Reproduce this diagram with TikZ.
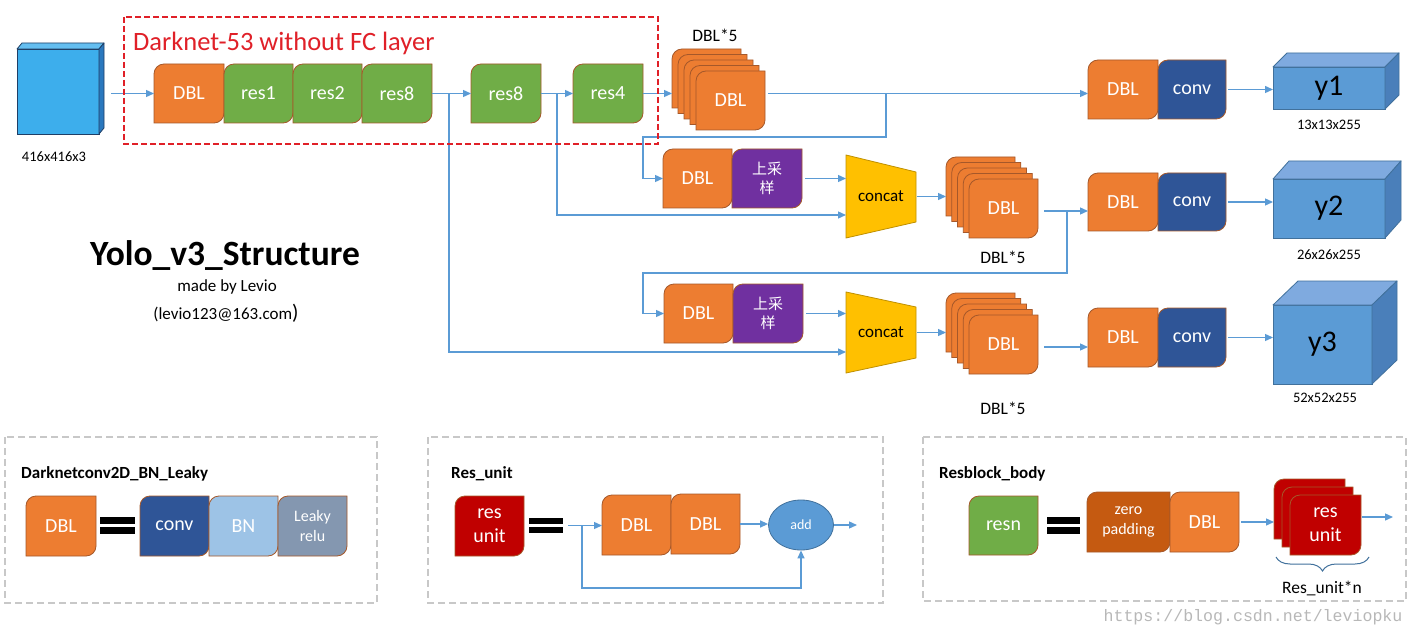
\documentclass[tikz,border=0pt]{standalone}
\usepackage{fontspec}
\setmainfont{Carlito}
\newfontfamily\cjkf{Noto Sans CJK SC}
\newfontfamily\wmf{Liberation Mono}
\usetikzlibrary{arrows.meta,backgrounds,decorations.pathreplacing,shapes.geometric}

\definecolor{dblc}{HTML}{ED7D31}
\definecolor{resc}{HTML}{70AD47}
\definecolor{convc}{HTML}{2F5597}
\definecolor{upc}{HTML}{7030A0}
\definecolor{ruc}{HTML}{C00000}
\definecolor{zpc}{HTML}{C55A11}
\definecolor{bnc}{HTML}{9DC3E6}
\definecolor{lkc}{HTML}{8497B0}
\definecolor{edgec}{HTML}{A5582A}
\definecolor{arrc}{HTML}{5B9BD5}
\definecolor{cubef}{HTML}{5B9BD5}
\definecolor{cubet}{HTML}{7FAADF}
\definecolor{cubes}{HTML}{4A7FBA}
\definecolor{cubee}{HTML}{41719C}
\definecolor{inpf}{HTML}{3DAEEC}
\definecolor{inps}{HTML}{2A78BE}
\definecolor{inpe}{HTML}{1F3F66}
\definecolor{catc}{HTML}{FFC000}
\definecolor{cate}{HTML}{BF9000}
\definecolor{redc}{HTML}{E02028}
\definecolor{panelc}{HTML}{C8C8C8}
\definecolor{wmc}{HTML}{B8B8B8}

\makeatletter
\pgfdeclareshape{snipbox}{%
  \inheritsavedanchors[from=rectangle]%
  \inheritanchorborder[from=rectangle]%
  \inheritanchor[from=rectangle]{center}%
  \inheritanchor[from=rectangle]{north}%
  \inheritanchor[from=rectangle]{south}%
  \inheritanchor[from=rectangle]{east}%
  \inheritanchor[from=rectangle]{west}%
  \inheritanchor[from=rectangle]{north east}%
  \inheritanchor[from=rectangle]{north west}%
  \inheritanchor[from=rectangle]{south east}%
  \inheritanchor[from=rectangle]{south west}%
  \inheritanchor[from=rectangle]{text}%
  \inheritanchor[from=rectangle]{mid}%
  \inheritanchor[from=rectangle]{base}%
  \backgroundpath{%
    \southwest \edef\snpxa{\the\pgf@x}\edef\snpya{\the\pgf@y}%
    \northeast \edef\snpxb{\the\pgf@x}\edef\snpyb{\the\pgf@y}%
    \edef\snpr{\pgfkeysvalueof{/tikz/snip radius}}%
    \pgfpathmoveto{\pgfpoint{\snpxa}{\snpya}}%
    \pgfpathlineto{\pgfpoint{\snpxa}{\snpyb-\snpr}}%
    \pgfpathcurveto{\pgfpoint{\snpxa}{\snpyb-0.4477*\snpr}}{\pgfpoint{\snpxa+0.4477*\snpr}{\snpyb}}{\pgfpoint{\snpxa+\snpr}{\snpyb}}%
    \pgfpathlineto{\pgfpoint{\snpxb}{\snpyb}}%
    \pgfpathlineto{\pgfpoint{\snpxb}{\snpya+\snpr}}%
    \pgfpathcurveto{\pgfpoint{\snpxb}{\snpya+0.4477*\snpr}}{\pgfpoint{\snpxb-0.4477*\snpr}{\snpya}}{\pgfpoint{\snpxb-\snpr}{\snpya}}%
    \pgfpathclose
  }%
}
\makeatother

\tikzset{
  snip radius/.initial=10pt,
  blk/.style={shape=snipbox, draw=edgec, line width=0.8pt, inner sep=0pt, outer sep=0pt, anchor=north west, text=white, align=center, font=\fontsize{20}{24}\selectfont},
  sz/.style 2 args={minimum width=#1pt, minimum height=#2pt},
  dblbox/.style={blk, fill=dblc},
  resbox/.style={blk, fill=resc},
  convbox/.style={blk, fill=convc},
  upbox/.style={blk, fill=upc, font=\cjkf\fontsize{15}{19}\selectfont},
  rubox/.style={blk, fill=ruc},
  zpbox/.style={blk, fill=zpc, font=\fontsize{16}{20}\selectfont},
  bnbox/.style={blk, fill=bnc},
  lkbox/.style={blk, fill=lkc, font=\fontsize{16}{20}\selectfont},
  cubefront/.style={draw=cubee, fill=cubef, line width=0.8pt, inner sep=0pt, outer sep=0pt, anchor=north west, font=\fontsize{30}{32}\selectfont, text=black},
  cubetop/.style={draw=cubee, fill=cubet, line width=0.8pt, line join=round},
  cubeside/.style={draw=cubee, fill=cubes, line width=0.8pt, line join=round},
  catbox/.style={minimum width=70pt, inner sep=0pt, outer sep=0pt, font=\fontsize{17}{20}\selectfont},
  catfill/.style={fill=catc, draw=cate, line width=0.8pt, line join=round},
  arr/.style={draw=arrc, line width=1.3pt, -{Triangle[length=8pt,width=7pt]}},
  ln/.style={draw=arrc, line width=1.3pt},
  lbl/.style={inner sep=0pt, text=black, font=\fontsize{14.5}{16}\selectfont},
  lblb/.style={inner sep=0pt, text=black, font=\fontsize{17.5}{20}\selectfont},
  ptitle/.style={inner sep=0pt, anchor=west, text=black, font=\bfseries\fontsize{17}{20}\selectfont},
  panel/.style={draw=panelc, line width=1.8pt, dash pattern=on 7pt off 4pt},
  eqbar/.style={fill=black},
}

\begin{document}
\begin{tikzpicture}[x=1pt,y=-1pt]
\useasboundingbox (0,0) rectangle (1415,636);
\begin{pgfonlayer}{background}
\fill[white] (0,0) rectangle (1415,636);
\end{pgfonlayer}

% ---------- input cube ----------
\node[cubefront, draw=inpe, fill=inpf, sz={82}{85}] (inp) at (17,49) {};
\filldraw[cubetop, draw=inpe, fill=inpf!80!white] (inp.north west) -- ++(5,-6) -- ([shift={(5,-6)}]inp.north east) -- (inp.north east) -- cycle;
\filldraw[cubeside, draw=inpe, fill=inps] (inp.north east) -- ([shift={(5,-6)}]inp.north east) -- ([shift={(5,-6)}]inp.south east) -- (inp.south east) -- cycle;
\node[lbl] (inpl) at (54,157) {416x416x3};

% ---------- backbone ----------
\node[redc, anchor=west, inner sep=0pt, font=\fontsize{26.5}{30}\selectfont] (dk) at (133,43) {Darknet-53 without FC layer};
\node[dblbox, sz={70}{59}] (dbl0) at (154,64) {DBL};
\node[resbox, sz={69}{59}] (r1) at (224,64) {res1};
\node[resbox, sz={69}{59}] (r2) at (293,64) {res2};
\node[resbox, sz={70}{59}] (r8a) at (362,64) {res8};
\node[resbox, sz={70}{59}] (r8b) at (471,64) {res8};
\node[resbox, sz={70}{59}] (r4) at (573,64) {res4};

% stack 1
\node[dblbox, sz={69}{59}] (s1a) at (672,49) {};
\node[dblbox, sz={69}{59}] (s1b) at (678,54.5) {};
\node[dblbox, sz={69}{59}] (s1c) at (684,60) {};
\node[dblbox, sz={69}{59}] (s1d) at (690,65.5) {};
\node[dblbox, sz={69}{59}] (s1e) at (696,71) {DBL};
\node[lblb] (s1l) at (715,35) {DBL*5};

% y1 branch
\node[dblbox, sz={70}{59}] (d1) at (1088,60) {DBL};
\node[convbox, sz={68}{59}] (cv1) at (1158,60) {conv};
\node[cubefront, sz={112}{42}] (y1) at (1273,67) {y1};
\filldraw[cubetop] (y1.north west) -- ++(14,-14) -- ([shift={(14,-14)}]y1.north east) -- (y1.north east) -- cycle;
\filldraw[cubeside] (y1.north east) -- ([shift={(14,-14)}]y1.north east) -- ([shift={(14,-14)}]y1.south east) -- (y1.south east) -- cycle;
\node[lbl] (y1l) at (1329,125) {13x13x255};

% row 2
\node[dblbox, sz={69}{59}] (u1d) at (663,149) {DBL};
\node[upbox, sz={70}{59}] (u1u) at (732,149) {上采\\样};
\node[catbox, minimum height=83pt] (c1) at (881,196.5) {concat};
\begin{pgfonlayer}{background}
\filldraw[catfill] (c1.north west) -- ([yshift=-17pt]c1.north east) -- ([yshift=16pt]c1.south east) -- (c1.south west) -- cycle;
\end{pgfonlayer}
\node[dblbox, sz={69}{59}] (s2a) at (946,157) {};
\node[dblbox, sz={69}{59}] (s2b) at (951.75,162.5) {};
\node[dblbox, sz={69}{59}] (s2c) at (957.5,168) {};
\node[dblbox, sz={69}{59}] (s2d) at (963.25,173.5) {};
\node[dblbox, sz={69}{59}] (s2e) at (969,179) {DBL};
\node[lblb] (s2l) at (1003,257) {DBL*5};
\node[dblbox, sz={70}{58}] (d2) at (1088,173) {DBL};
\node[convbox, sz={68}{58}] (cv2) at (1158,173) {conv};
\node[cubefront, sz={112}{59}] (y2) at (1273,179) {y2};
\filldraw[cubetop] (y2.north west) -- ++(16,-18) -- ([shift={(16,-18)}]y2.north east) -- (y2.north east) -- cycle;
\filldraw[cubeside] (y2.north east) -- ([shift={(16,-18)}]y2.north east) -- ([shift={(16,-18)}]y2.south east) -- (y2.south east) -- cycle;
\node[lbl] (y2l) at (1329,255) {26x26x255};

% row 3
\node[dblbox, sz={69}{59}] (u2d) at (664,284) {DBL};
\node[upbox, sz={70}{59}] (u2u) at (733,284) {上采\\样};
\node[catbox, minimum height=81pt] (c2) at (881,332.5) {concat};
\begin{pgfonlayer}{background}
\filldraw[catfill] (c2.north west) -- ([yshift=-15pt]c2.north east) -- ([yshift=15pt]c2.south east) -- (c2.south west) -- cycle;
\end{pgfonlayer}
\node[dblbox, sz={69}{59}] (s3a) at (946,293) {};
\node[dblbox, sz={69}{59}] (s3b) at (951.75,298.5) {};
\node[dblbox, sz={69}{59}] (s3c) at (957.5,304) {};
\node[dblbox, sz={69}{59}] (s3d) at (963.25,309.5) {};
\node[dblbox, sz={69}{59}] (s3e) at (969,315) {DBL};
\node[lblb] (s3l) at (1003,408) {DBL*5};
\node[dblbox, sz={70}{59}] (d3) at (1088,308) {DBL};
\node[convbox, sz={68}{59}] (cv3) at (1158,308) {conv};
\node[cubefront, sz={99}{79}] (y3) at (1273,305) {y3};
\filldraw[cubetop] (y3.north west) -- ++(25,-24) -- ([shift={(25,-24)}]y3.north east) -- (y3.north east) -- cycle;
\filldraw[cubeside] (y3.north east) -- ([shift={(25,-24)}]y3.north east) -- ([shift={(25,-24)}]y3.south east) -- (y3.south east) -- cycle;
\node[lbl] (y3l) at (1325,398) {52x52x255};

% title
\node[inner sep=0pt, font=\bfseries\fontsize{35.5}{38}\selectfont] (ttl) at (225,256) {Yolo\_v3\_Structure};
\node[inner sep=0pt, font=\fontsize{17}{20}\selectfont] (by) at (227,287) {made by Levio};
\node[inner sep=0pt, font=\fontsize{17}{20}\selectfont] (mail) at (226,313) {(levio123@163.com{\fontsize{21}{21}\selectfont)}};

% ---------- connectors ----------
\coordinate (b4) at (449,93.5);
\coordinate (b2) at (557,93.5);
\coordinate (b1) at (886,93.5);
\coordinate (k1) at (643,137);
\coordinate (k2) at (557,215);
\coordinate (b3) at (1067,211);
\coordinate (k3) at (643,273);
\coordinate (k4) at (449,352);
\coordinate (k5) at (1044,347);

\draw[arr, shorten <=12pt] (inp.east |- dbl0.west) -- (dbl0.west);
\draw[arr] (r8a.east) -- (r8b.west);
\draw[arr] (r8b.east) -- (r4.west);
\draw[arr] (r4.east) -- (r4.east -| s1a.west);
\draw[arr, shorten <=3pt] (s1e.east |- r4.east) -- (d1.west |- r4.east);
\draw[arr, shorten <=2pt] (cv1.east) -- (cv1.east -| y1.west);
\draw[arr] (b1) |- (k1) |- (u1d.west);
\draw[arr, shorten <=3pt] (u1u.east) -- (u1u.east -| c1.west);
\draw[arr] (b2) -- (k2) -- (k2 -| c1.west);
\draw[arr, shorten <=1pt] (c1.east) -- (c1.east -| s2a.west);
\draw[arr, shorten <=6pt] (s2e.east |- b3) -- (b3 -| d2.west);
\draw[arr, shorten <=2pt] (cv2.east) -- (cv2.east -| y2.west);
\draw[arr] (b3) |- (k3) |- (u2d.west);
\draw[arr, shorten <=3pt] (u2u.east) -- (u2u.east -| c2.west);
\draw[arr] (b4) -- (k4) -- (k4 -| c2.west);
\draw[arr, shorten <=1pt] (c2.east) -- (c2.east -| s3a.west);
\draw[arr, shorten <=6pt] (s3e.east |- k5) -- (k5 -| d3.west);
\draw[arr, shorten <=2pt] (cv3.east) -- (cv3.east -| y3.west);

% red dashed frame
\draw[redc, line width=2.2pt, dash pattern=on 6pt off 3pt] (124,17) rectangle (658,144);

% ---------- bottom panels ----------
\draw[panel] (5,437) rectangle (377,603);
\draw[panel] (428,437) rectangle (883,603);
\draw[panel] (923,437) rectangle (1406,601);

% panel 1
\node[ptitle] (p1t) at (21,474) {Darknetconv2D\_BN\_Leaky};
\node[dblbox, sz={70}{60}] (bdbl) at (26,496) {DBL};
\fill[eqbar] (100,517) rectangle (135,524);
\fill[eqbar] (100,527) rectangle (135,534);
\node[convbox, sz={69}{60}] (bconv) at (140,496) {conv};
\node[bnbox, sz={69}{60}] (bbn) at (209,496) {BN};
\node[lkbox, sz={69}{60}] (blk) at (278,496) {Leaky\\relu};

% panel 2
\node[ptitle] (p2t) at (451,474) {Res\_unit};
\node[rubox, sz={69}{60}] (bru) at (455,496) {\raisebox{-2pt}{res}\\\raisebox{-2pt}{unit}};
\fill[eqbar] (529,518) rectangle (563,524);
\fill[eqbar] (529,527) rectangle (563,533);
\node[dblbox, sz={69}{60}] (rd1) at (602,495) {DBL};
\node[dblbox, sz={69}{60}] (rd2) at (671,494) {DBL};
\node[ellipse, draw=cubee, fill=arrc, line width=0.8pt, minimum width=65pt, minimum height=50pt, inner sep=0pt, text=white, font=\fontsize{14}{16}\selectfont] (add) at (801,525) {add};
\coordinate (ru0) at (568,525.5);
\coordinate (ru2) at (582,525.5);
\coordinate (ru3) at (801,588);
\coordinate (ru1) at (857,525);
\draw[arr] (ru0) -- (ru0 -| rd1.west);
\draw[arr] (rd2.east) -- (rd2.east -| add.west);
\draw[arr] (add.east) -- (ru1);
\draw[arr] (ru2) |- (ru3) -- (add.south);

% panel 3
\node[ptitle] (p3t) at (939,474) {Resblock\_body};
\node[resbox, sz={69}{59}] (rsn) at (969,496) {resn};
\fill[eqbar] (1047,517) rectangle (1080,524);
\fill[eqbar] (1047,527) rectangle (1080,534);
\node[zpbox, sz={83}{60}] (zp) at (1087,492) {zero\\padding};
\node[dblbox, sz={69}{60}] (rdb) at (1170,492) {DBL};
\node[rubox, sz={71}{60}] (rs1) at (1274,479) {};
\node[rubox, sz={71}{60}] (rs2) at (1282,487) {};
\node[rubox, sz={71}{60}] (rs3) at (1290,495) {res\\unit};
\coordinate (ro) at (1393,517);
\draw[arr, shorten <=2pt] (rdb.east) -- (rdb.east -| rs1.west);
\draw[arr, shorten <=1pt] (rs3.east |- ro) -- (ro);
\draw[cubee, line width=1pt, decorate, decoration={brace, mirror, amplitude=14pt}] (1276,557) -- (1369,557);
\node[lblb] (rul) at (1322,588) {Res\_unit*n};

% watermark
\node[inner sep=0pt, text=wmc, font=\wmf\fontsize{16.6}{18}\selectfont] (wm) at (1253,617) {https://blog.csdn.net/leviopku};
\end{tikzpicture}
\end{document}
